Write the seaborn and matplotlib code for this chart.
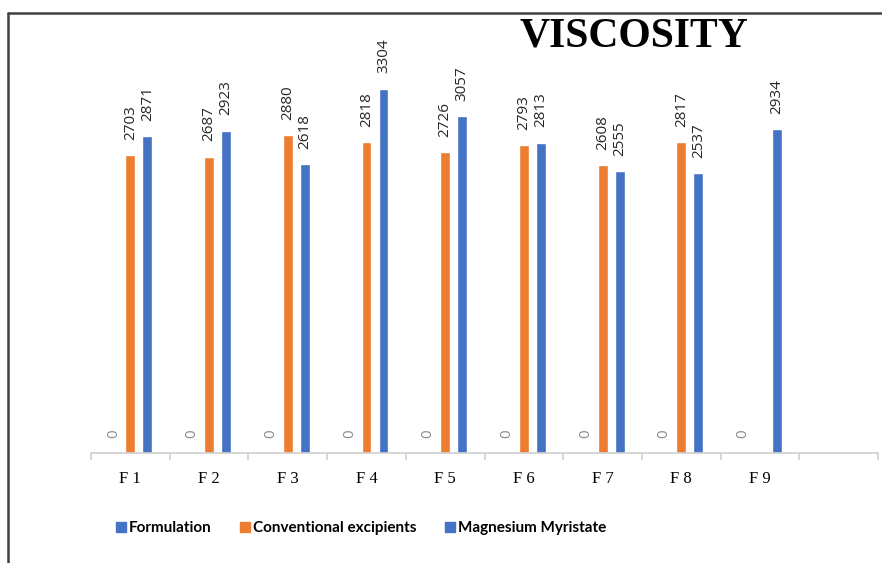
import numpy as np
import pandas as pd
import matplotlib.pyplot as plt
import seaborn as sns
from matplotlib.lines import Line2D


# ======================
# DATA
# ======================

categories = ["F1", "F2", "F3", "F4", "F5", "F6", "F7", "F8", "F9"]
tick_labels = ["F 1", "F 2", "F 3", "F 4", "F 5", "F 6", "F 7", "F 8", "F 9"]
series = ["Formulation", "Conventional excipients", "Magnesium Myristate"]

formulation = [0, 0, 0, 0, 0, 0, 0, 0, 0]
conventional = [2703, 2687, 2880, 2818, 2726, 2793, 2608, 2817, np.nan]
magnesium = [2871, 2923, 2618, 3304, 3057, 2813, 2555, 2537, 2934]


# ======================
# CONFIG
# ======================

sns.set_theme(style="white")

colors = {
    "Formulation": "#4472C4",
    "Conventional excipients": "#ED7D31",
    "Magnesium Myristate": "#4472C4",
}

df = pd.DataFrame({
    "category": categories * 3,
    "series": [s for s in series for _ in categories],
    "value": formulation + conventional + magnesium,
})


# ======================
# CHART
# ======================

fig = plt.figure(figsize=(8.82, 5.63), dpi=100)
ax = fig.add_axes([0.1032, 0.1954, 0.8923, 0.6856])

sns.barplot(
    data=df,
    x="category",
    y="value",
    hue="series",
    hue_order=series,
    order=categories,
    palette=colors,
    saturation=1,
    width=0.65,
    gap=0.42,
    errorbar=None,
    legend=False,
    ax=ax
)

ax.set_xlim(-0.5, 9.5)
ax.set_ylim(0, 3500)

# value labels
for container, name in zip(ax.containers, series):
    if name == "Formulation":
        ax.bar_label(container, labels=["0"] * len(container), rotation=90,
                     padding=11, color="#8c8c8c", fontsize=11, family="Open Sans")
    else:
        ax.bar_label(container, fmt="%d", rotation=90, padding=11,
                     color="#262626", fontsize=11, family="Open Sans")

# axes styling
for side in ["top", "right", "left"]:
    ax.spines[side].set_visible(False)
ax.spines["bottom"].set_color("#d0d0d0")
ax.spines["bottom"].set_linewidth(1.2)

ax.set_yticks([])
ax.set_xlabel("")
ax.set_ylabel("")
ax.set_xticks(range(len(categories)))
ax.set_xticklabels(tick_labels, family="Liberation Serif", fontsize=12, color="#000000")
ax.tick_params(axis="x", which="major", length=0, pad=13)
ax.set_xticks(np.arange(-0.5, 10, 1), minor=True)
ax.tick_params(axis="x", which="minor", length=5, width=1.2, color="#d0d0d0",
               direction="out", bottom=True)
ax.grid(False)

# title
fig.text(0.719, 0.936, "VISCOSITY", ha="center", va="center",
         family="Liberation Serif", fontweight="bold", fontsize=30, color="#000000")

# legend
handles = [
    Line2D([], [], marker="s", linestyle="none", markersize=7,
           color=colors[name], label=name)
    for name in series
]
fig.legend(
    handles=handles,
    loc="center",
    bbox_to_anchor=(0.41, 0.062),
    ncol=3,
    frameon=False,
    prop={"family": "Lato", "weight": "bold", "size": 11},
    labelcolor="#000000",
    handlelength=0.5,
    handletextpad=0.3,
    columnspacing=1.9
)

# outer frame lines (left and top)
fig.add_artist(Line2D([0.009, 0.009], [0.0, 0.977], color="#404040", linewidth=1.8))
fig.add_artist(Line2D([0.009, 1.0], [0.977, 0.977], color="#404040", linewidth=1.8))

plt.savefig("out.png", dpi=100)
plt.close()
